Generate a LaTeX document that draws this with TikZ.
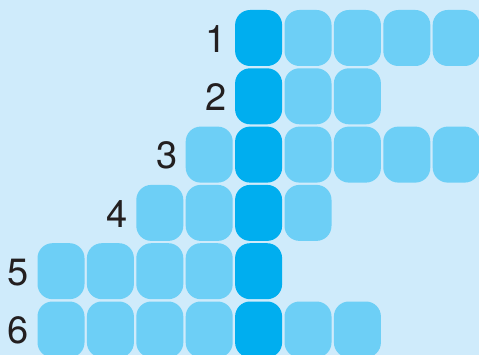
\documentclass[tikz,border=0pt]{standalone}
\usepackage{fontspec}
\setmainfont{TeX Gyre Heros}
\usetikzlibrary{positioning}
\definecolor{bgblue}{HTML}{CFEBFB}
\definecolor{cellblue}{HTML}{6DCFF6}
\definecolor{keyblue}{HTML}{00AEEF}
\definecolor{digit}{HTML}{231F20}

\tikzset{
  cell/.style={rectangle, rounded corners=15pt, inner sep=0pt,
    minimum width=47pt, minimum height=56pt},
  rowlabel/.style={text=digit, inner sep=0pt,
    font=\fontsize{38}{40}\selectfont}
}

\begin{document}
\begin{tikzpicture}[x=1pt, y=-1pt]
  % background
  \fill[bgblue] (0,0) rectangle (479,355);
  \useasboundingbox (0,0) rectangle (479,355);
  % rows: row / first column / last column, column 4 is the key column
  \foreach \r/\a/\b in {1/4/8, 2/4/6, 3/3/8, 4/2/5, 5/0/4, 6/0/6} {
    \foreach \c in {\a,...,\b} {
      \ifnum\c=4 \def\cellcol{keyblue}\else\def\cellcol{cellblue}\fi
      \node[cell, fill=\cellcol] (c\r-\c) at ({61+49.4*\c},{38+58.3*(\r-1)}) {};
    }
    \node[rowlabel, left=8pt of c\r-\a, yshift=-1pt] (lab\r) {\r};
  }
\end{tikzpicture}
\end{document}
